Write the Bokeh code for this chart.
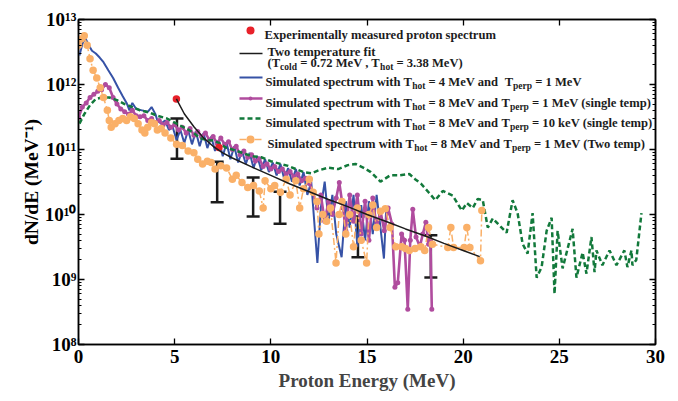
from bokeh.plotting import figure
from bokeh.models import (LogAxis, LinearAxis, FixedTicker, CustomJSTickFormatter,
                          Label, Arrow, BoxAnnotation, Whisker, TeeHead, Title,
                          ColumnDataSource, Range1d)
from bokeh.embed import file_html
from bokeh.resources import INLINE

# ---------------- data ----------------
blue_E = [0.05, 0.2, 0.35, 0.5, 0.7, 0.9, 1.1, 1.3, 1.55, 1.8, 2.06, 2.3, 2.5, 2.65, 2.8, 3.0,
          3.3, 3.6, 3.8, 4.0, 4.1, 4.3, 4.5, 4.7, 4.9, 5.1, 5.3, 5.5, 5.7, 5.9, 6.1, 6.3, 6.5,
          6.7, 6.9, 7.1, 7.3, 7.5, 7.7, 7.9, 8.1, 8.3, 8.5, 8.7, 8.9, 9.1, 9.3, 9.5, 9.7, 9.9,
          10.1, 10.3, 10.5, 10.7, 10.9, 11.1, 11.3, 11.5, 11.7, 11.9, 12.1, 12.42, 12.6, 12.8,
          13.0, 13.2, 13.4, 13.68, 13.9, 14.1, 14.3, 14.5, 14.7, 14.9, 15.1, 15.3, 15.5, 15.7,
          15.88, 16.0]
blue_N = [2.8e12, 4.2e12, 5.2e12, 4.2e12, 3.3e12, 3.0e12, 2.6e12, 2.2e12, 1.66e12, 1.26e12,
          8.9e11, 6.6e11, 5.2e11, 4.0e11, 5.2e11, 4.2e11, 4.0e11, 3.8e11, 4.5e11, 3.5e11,
          2.8e11, 2.5e11, 2.8e11, 2.0e11, 2.2e11, 1.4e11, 2.0e11, 1.26e11, 2.0e11, 1.2e11,
          1.9e11, 1.12e11, 1.8e11, 1.05e11, 1.58e11, 9.5e10, 1.4e11, 7.9e10, 1.26e11, 7.1e10,
          1.12e11, 6.3e10, 9.5e10, 6.0e10, 8.9e10, 5.2e10, 7.9e10, 4.8e10, 7.1e10, 4.5e10,
          6.3e10, 4.0e10, 6.0e10, 3.5e10, 5.2e10, 3.2e10, 5.0e10, 2.8e10, 4.5e10, 2.0e10,
          3.2e10, 1.8e9, 1.26e10, 3.2e10, 7.9e9, 2.0e10, 5.0e9, 2.2e9, 1.6e10, 6.3e9,
          2.0e10, 3.2e9, 1.4e10, 4.0e9, 1.6e10, 5.0e9, 2.0e10, 6.3e9, 2.1e9, 1.26e10]

mag_E = [0.0, 0.2, 0.4, 0.6, 0.8, 1.0, 1.2, 1.4, 1.6, 1.8, 2.0, 2.2, 2.4, 2.6, 2.8, 3.0, 3.2,
         3.4, 3.6, 3.8, 4.0, 4.2, 4.4, 4.6, 4.8, 5.0, 5.2, 5.4, 5.6, 5.8, 6.0, 6.2, 6.4, 6.6,
         6.8, 7.0, 7.2, 7.4, 7.6, 7.8, 8.0, 8.2, 8.4, 8.6, 8.8, 9.0, 9.2, 9.4, 9.6, 9.8, 10.0,
         10.2, 10.4, 10.6, 10.8, 11.0, 11.2, 11.4, 11.6, 11.8, 12.0, 12.2, 12.4, 12.6, 12.8,
         13.0, 13.2, 13.4, 13.56, 13.75, 13.9, 14.1, 14.3, 14.5, 14.7, 14.9, 15.1, 15.3, 15.5,
         15.7, 15.9, 16.1, 16.3, 16.45, 16.6, 16.8, 16.95, 17.12, 17.25, 17.38, 17.55, 17.75,
         17.9, 18.06, 18.2, 18.3, 18.37]
mag_N = [3.1e11, 4.5e11, 5.2e11, 6.3e11, 7.1e11, 7.9e11, 8.3e11, 1.0e12, 8.9e11, 6.3e11,
         5.0e11, 4.2e11, 3.8e11, 3.5e11, 4.0e11, 3.3e11, 3.2e11, 3.3e11, 2.8e11, 3.0e11,
         2.6e11, 2.8e11, 2.4e11, 2.6e11, 2.2e11, 2.4e11, 2.0e11, 2.2e11, 1.8e11, 2.1e11,
         1.66e11, 1.9e11, 1.58e11, 1.8e11, 1.4e11, 1.58e11, 1.26e11, 1.5e11, 1.2e11, 1.32e11,
         1.0e11, 1.12e11, 8.3e10, 9.5e10, 7.6e10, 8.3e10, 6.6e10, 7.2e10, 5.5e10, 6.0e10,
         5.0e10, 5.5e10, 4.6e10, 5.0e10, 4.2e10, 4.6e10, 3.8e10, 4.2e10, 3.3e10, 3.6e10,
         3.0e10, 2.2e10, 1.26e10, 2.0e10, 7.9e9, 1.58e10, 1.0e10, 1.8e10, 3.1e10, 1.26e10,
         5.6e9, 2.0e10, 7.9e9, 2.0e10, 5.0e9, 1.6e10, 4.0e9, 1.8e10, 6.3e9, 1.12e10, 5.6e9,
         1.26e10, 7.1e9, 7.6e8, 8.9e8, 5.0e9, 4.0e9, 3.5e8, 4.0e9, 1.2e10, 4.5e9, 3.2e9,
         5.0e9, 7.6e9, 3.5e9, 4.0e9, 3.5e8]

grn_E = [0.05, 0.3, 0.6, 0.9, 1.2, 1.6, 2.0, 2.4, 2.8, 3.2, 3.7, 4.1, 4.6, 5.1, 5.6, 6.0, 6.3,
         6.7, 7.0, 7.3, 7.65, 8.0, 8.5, 9.0, 9.5, 10.0, 10.5, 10.9, 11.3, 11.7, 12.1, 12.5,
         13.0, 13.5, 14.0, 14.4, 14.8, 15.2, 15.7, 16.2, 16.7, 17.2, 17.5, 17.8, 18.2, 18.55,
         18.94, 19.46, 19.93, 20.19, 20.5, 20.76, 21.02, 21.28, 21.54, 22.0, 22.26, 22.57,
         22.83, 23.09, 23.35, 23.61, 23.82, 24.08, 24.34, 24.6, 24.75, 24.91, 25.17, 25.69,
         25.89, 26.21, 26.41, 26.67, 26.83, 26.93, 27.24, 27.61, 27.97, 28.38, 28.54, 28.75,
         28.8, 29.0, 29.27]
grn_N = [2.5e11, 3.5e11, 4.8e11, 6.0e11, 6.3e11, 6.3e11, 5.75e11, 5.0e11, 4.5e11, 4.0e11,
         3.7e11, 3.3e11, 3.0e11, 2.5e11, 2.1e11, 1.8e11, 1.5e11, 1.4e11, 1.38e11, 1.26e11,
         1.07e11, 1.0e11, 8.9e10, 7.9e10, 7.6e10, 6.6e10, 6.0e10, 5.6e10, 5.0e10, 4.5e10,
         4.3e10, 4.8e10, 5.25e10, 5.0e10, 5.75e10, 6.0e10, 5.25e10, 4.5e10, 3.2e10, 4.0e10,
         4.0e10, 4.2e10, 3.5e10, 3.0e10, 2.2e10, 1.66e10, 2.3e10, 1.95e10, 1.15e10, 1.5e10,
         1.26e10, 1.74e10, 1.66e10, 6.3e9, 8.7e9, 6.3e9, 5.25e9, 1.66e10, 1.05e10, 3.55e9,
         2.5e9, 1.05e10, 1.07e9, 1.55e9, 5.6e9, 8.9e9, 6.0e8, 5.6e9, 1.48e9, 6.0e9, 1.07e9,
         2.6e9, 1.23e9, 4.5e9, 1.3e9, 2.8e9, 1.66e9, 2.8e9, 1.66e9, 2.8e9, 1.55e9, 2.8e9,
         1.66e9, 2.0e9, 1.05e10]

org_E = [0.0, 0.15, 0.3, 0.45, 0.6, 0.76, 0.95, 1.13, 1.3, 1.5, 1.6, 1.7, 1.9, 2.1, 2.3, 2.5,
         2.7, 2.9, 3.1, 3.3, 3.45, 3.6, 3.8, 3.95, 4.1, 4.3, 4.5, 4.8, 5.1, 5.4, 5.7, 6.0, 6.2,
         6.45, 6.7, 6.9, 7.1, 7.4, 7.7, 8.0, 8.2, 8.5, 8.8, 9.1, 9.4, 9.6, 9.7, 10.0, 10.2,
         10.5, 10.8, 11.0, 11.3, 11.5, 11.7, 12.0, 12.2, 12.4, 12.5, 12.7, 12.9, 13.1, 13.39,
         13.55, 13.7, 13.9, 14.1, 14.3, 14.5, 14.7, 14.98, 15.1, 15.3, 15.5, 15.7, 15.95, 16.2,
         16.5, 16.8, 17.0, 17.2, 17.5, 17.8, 18.0, 18.2, 18.4, 19.2, 19.36, 19.5, 20.05, 20.19,
         20.35, 20.9, 20.97]
org_N = [4.0e12, 5.0e12, 5.6e12, 4.0e12, 2.5e12, 1.66e12, 1.26e12, 8.9e11, 6.3e11, 4.0e11,
         2.8e11, 2.2e11, 2.5e11, 2.8e11, 3.0e11, 2.8e11, 3.2e11, 3.0e11, 2.5e11, 2.0e11,
         1.8e11, 2.2e11, 2.6e11, 2.5e11, 2.0e11, 2.1e11, 1.8e11, 1.5e11, 1.2e11, 1.15e11,
         9.5e10, 8.9e10, 7.1e10, 6.0e10, 6.6e10, 6.3e10, 5.0e10, 5.6e10, 5.2e10, 3.5e10,
         4.0e10, 3.1e10, 2.6e10, 2.8e10, 2.3e10, 1.26e10, 3.3e10, 2.5e10, 2.8e10, 2.2e10,
         3.5e10, 2.0e10, 3.3e10, 1.26e10, 2.5e10, 3.5e10, 2.2e10, 1.58e10, 5.0e9, 1.0e10,
         7.9e9, 1.26e10, 1.8e9, 1.0e10, 1.58e10, 5.0e9, 1.0e10, 3.2e9, 1.26e10, 4.0e9, 1.8e9,
         1.0e10, 1.4e10, 6.3e9, 1.12e10, 1.23e10, 6.3e9, 3.2e9, 3.2e9, 3.0e9, 2.8e9, 3.0e9,
         3.2e9, 2.8e9, 6.3e9, 3.5e9, 3.1e9, 6.3e9, 3.1e9, 3.1e9, 6.3e9, 3.1e9, 1.95e9, 1.15e10]

fit_E = [5.09, 5.5, 6.0, 6.5, 7.0, 7.5, 8.0, 9.0, 10.0, 11.0, 12.0, 13.0, 14.0, 15.0, 16.0,
         17.0, 18.0, 19.0, 20.0, 20.86]
fit_N = [6.0e11, 3.55e11, 2.24e11, 1.51e11, 1.12e11, 8.9e10, 7.4e10, 5.4e10, 4.0e10, 2.95e10,
         2.24e10, 1.7e10, 1.32e10, 1.0e10, 7.8e9, 6.0e9, 4.7e9, 3.6e9, 2.8e9, 2.25e9]

exp_E = [5.09, 7.3]
exp_N = [6.0e11, 1.07e11]

err_E = [5.12, 7.21, 9.08, 10.48, 14.53, 18.32]
err_hi = [3.0e11, 6.5e10, 3.7e10, 2.24e10, 9.3e9, 4.8e9]
err_lo = [7.2e10, 1.55e10, 9.3e9, 7.2e9, 2.2e9, 1.07e9]

x_ticks = [0, 5, 10, 15, 20, 25, 30]
y_ticks = [1e8, 1e9, 1e10, 1e11, 1e12, 1e13]

# ---------------- styling ----------------
FONT = "Liberation Serif"
BLUE = "#3652a6"
MAG = "#b04c9e"
GRN = "#12793b"
ORG = "#fab068"
RED = "#e8212a"
BLK = "#1c1c1c"

W, H = 678, 401
FL, FR, FT, FB = 78, 655, 19, 344

p = figure(width=W, height=H, y_axis_type="log",
           x_range=Range1d(0, 30), y_range=Range1d(1e8, 1e13),
           output_backend="svg", toolbar_location=None,
           min_border_left=FL, min_border_right=W - FR,
           min_border_top=FT, min_border_bottom=H - FB)
p.xgrid.visible = False
p.ygrid.visible = False
p.outline_line_color = "black"
p.outline_line_width = 1.5
p.background_fill_color = "white"
p.border_fill_color = "white"

minor = [m * d for d in y_ticks[:-1] for m in range(2, 10)]
yticker = FixedTicker(ticks=y_ticks, minor_ticks=minor)
xticker = FixedTicker(ticks=x_ticks)

sup_js = """
const sup = {"0":"\u2070","1":"\u00b9","2":"\u00b2","3":"\u00b3","4":"\u2074","5":"\u2075",
             "6":"\u2076","7":"\u2077","8":"\u2078","9":"\u2079","-":"\u207b"};
const e = Math.round(Math.log10(tick));
return "10" + String(e).split("").map(c => sup[c]).join("");
"""


def style_axis(ax, labels=True):
    ax.axis_line_width = 1.5
    ax.axis_line_color = "black"
    ax.major_tick_in = 6
    ax.major_tick_out = 0
    ax.minor_tick_in = 3
    ax.minor_tick_out = 0
    ax.major_tick_line_width = 1.3
    ax.minor_tick_line_width = 1
    ax.major_label_text_font = FONT
    ax.major_label_text_font_style = "bold"
    ax.major_label_text_color = "black"
    if labels:
        ax.major_label_text_font_size = "19px"
    else:
        ax.major_label_text_font_size = "0px"
        ax.major_label_standoff = 0


xa = p.xaxis[0]
xa.ticker = xticker
style_axis(xa)
xa.minor_tick_line_color = None
xa.major_label_standoff = 5
xa.axis_label = "Proton Energy (MeV)"
xa.axis_label_text_font = FONT
xa.axis_label_text_font_style = "bold"
xa.axis_label_text_font_size = "19px"
xa.axis_label_standoff = 4

ya = p.yaxis[0]
ya.ticker = yticker
style_axis(ya)
ya.formatter = CustomJSTickFormatter(code=sup_js)
ya.major_label_standoff = 2

# y axis title as a side-panel title (reads bottom to top)
p.add_layout(Title(text="dN/dE (MeV\u207b\u00b9)", align="center", text_font=FONT,
                   text_font_style="bold", text_font_size="19.5px", text_color="black",
                   standoff=0, offset=0), "left")

top = LinearAxis(ticker=xticker, axis_label=None)
style_axis(top, labels=False)
top.minor_tick_line_color = None
top.formatter = CustomJSTickFormatter(code="return '';")
p.add_layout(top, "above")

right = LogAxis(ticker=yticker, axis_label=None)
style_axis(right, labels=False)
right.formatter = CustomJSTickFormatter(code="return '';")
p.add_layout(right, "right")

# ---------------- data glyphs ----------------
p.line(blue_E, blue_N, line_color=BLUE, line_width=2)
p.line(mag_E, mag_N, line_color=MAG, line_width=2.6)
p.scatter(mag_E, mag_N, size=5, fill_color=MAG, line_color=None)
p.line(grn_E, grn_N, line_color=GRN, line_width=2.5, line_dash="5 3")
p.line(org_E, org_N, line_color=ORG, line_width=1.5, line_dash="7 3 2 3")
p.scatter(org_E, org_N, size=7.5, fill_color=ORG, line_color=None)
p.scatter(exp_E, exp_N, size=7.5, fill_color=RED, line_color=None)
p.line(fit_E, fit_N, line_color=BLK, line_width=1.5)

err_src = ColumnDataSource(dict(x=err_E, up=err_hi, lo=err_lo))
p.add_layout(Whisker(base="x", upper="up", lower="lo", source=err_src, dimension="height",
                     line_color=BLK, line_width=2.5,
                     upper_head=TeeHead(size=13, line_width=2.5, line_color=BLK),
                     lower_head=TeeHead(size=13, line_width=2.5, line_color=BLK)))

# ---------------- hand-built legend (screen units) ----------------
SCREEN_BOTTOM = FB + 5   # observed origin of Bokeh screen units (canvas px)

# Times-Bold advance widths (per 1000 em) used to lay out text pieces
ADV = {" ": 250, "(": 333, ")": 333, ",": 250, ".": 250, "=": 570,
       "0": 500, "1": 500, "2": 500, "3": 500, "4": 500, "5": 500, "6": 500,
       "7": 500, "8": 500, "9": 500,
       "E": 667, "M": 944, "S": 556, "T": 667, "V": 722,
       "a": 500, "c": 444, "d": 556, "e": 444, "f": 333, "g": 500, "h": 556,
       "i": 278, "k": 556, "l": 278, "m": 833, "n": 556, "o": 500, "p": 556,
       "r": 444, "s": 389, "t": 333, "u": 556, "v": 500, "w": 722, "x": 500, "y": 500}
MAIN = 12.6
SUBS = 9.5
SP = 250 * MAIN / 1000.0


def sx(cx):
    return cx - FL


def sy(cy):
    return SCREEN_BOTTOM - cy


def width(s, size):
    return sum(ADV.get(c, 500) for c in s) * size / 1000.0


def label(x, y, s, size, **kw):
    p.add_layout(Label(x=sx(x), y=sy(y), x_units="screen", y_units="screen", text=s,
                       text_font=FONT, text_font_style="bold", text_font_size=f"{size}px",
                       text_color=BLK, **kw))


def row(x0, base, pieces):
    x = x0
    for item in pieces:
        if isinstance(item, (int, float)):
            x += item
            continue
        s, sub = item
        size = SUBS if sub else MAIN
        label(x, base + (4 if sub else 0), s, size, text_baseline="alphabetic", text_align="left")
        x += width(s, size)


def sample_line(y, color, width_, dash="solid"):
    p.add_layout(Arrow(x_start=sx(239), y_start=sy(y), x_end=sx(262), y_end=sy(y),
                       start_units="screen", end_units="screen", start=None, end=None,
                       line_color=color, line_width=width_, line_dash=dash))


def dot(cx, cy, r, color):
    p.add_layout(BoxAnnotation(left=sx(cx - r), right=sx(cx + r), top=sy(cy - r), bottom=sy(cy + r),
                               left_units="screen", right_units="screen",
                               top_units="screen", bottom_units="screen",
                               border_radius=r, fill_color=color, fill_alpha=1.0,
                               line_color=None))


# row 1
dot(250, 35, 4, RED)
row(264, 39.5, [("Experimentally measured proton spectrum", False)])
# row 2
sample_line(58, BLK, 1.5)
row(267, 56.5, [("Two temperature fit", False)])
row(267, 67, [("(T", False), ("cold", True), SP, ("= 0.72 MeV , T", False), ("hot", True), SP,
              ("= 3.38 MeV)", False)])
# row 3
sample_line(82, BLUE, 2)
row(265, 86.5, [("Simulated spectrum with T", False), ("hot", True), SP, ("= 4 MeV and", False),
                2 * SP, ("T", False), ("perp", True), SP, ("= 1 MeV", False)])
# row 4
sample_line(103, MAG, 2.6)
dot(250, 103, 2, MAG)
row(265, 107.5, [("Simulated spectrum with T", False), ("hot", True), SP, ("= 8 MeV and", False),
                 SP, ("T", False), ("perp", True), SP, ("= 1 MeV (single temp)", False)])
# row 5
sample_line(123, GRN, 2.5, "5 3")
row(265, 127.5, [("Simulated spectrum with T", False), ("hot", True), SP, ("= 8 MeV and", False),
                 SP, ("T", False), ("perp", True), SP, ("= 10 keV (single temp)", False)])
# row 6
sample_line(144, ORG, 1.5, "7 3 2 3")
dot(250, 144, 4, ORG)
row(267, 148.5, [("Simulated spectrum with T", False), ("hot", True), SP, ("= 8 MeV and", False),
                 SP, ("T", False), ("perp", True), SP, ("= 1 MeV (Two temp)", False)])

open("out.html", "w").write(file_html(p, INLINE))
